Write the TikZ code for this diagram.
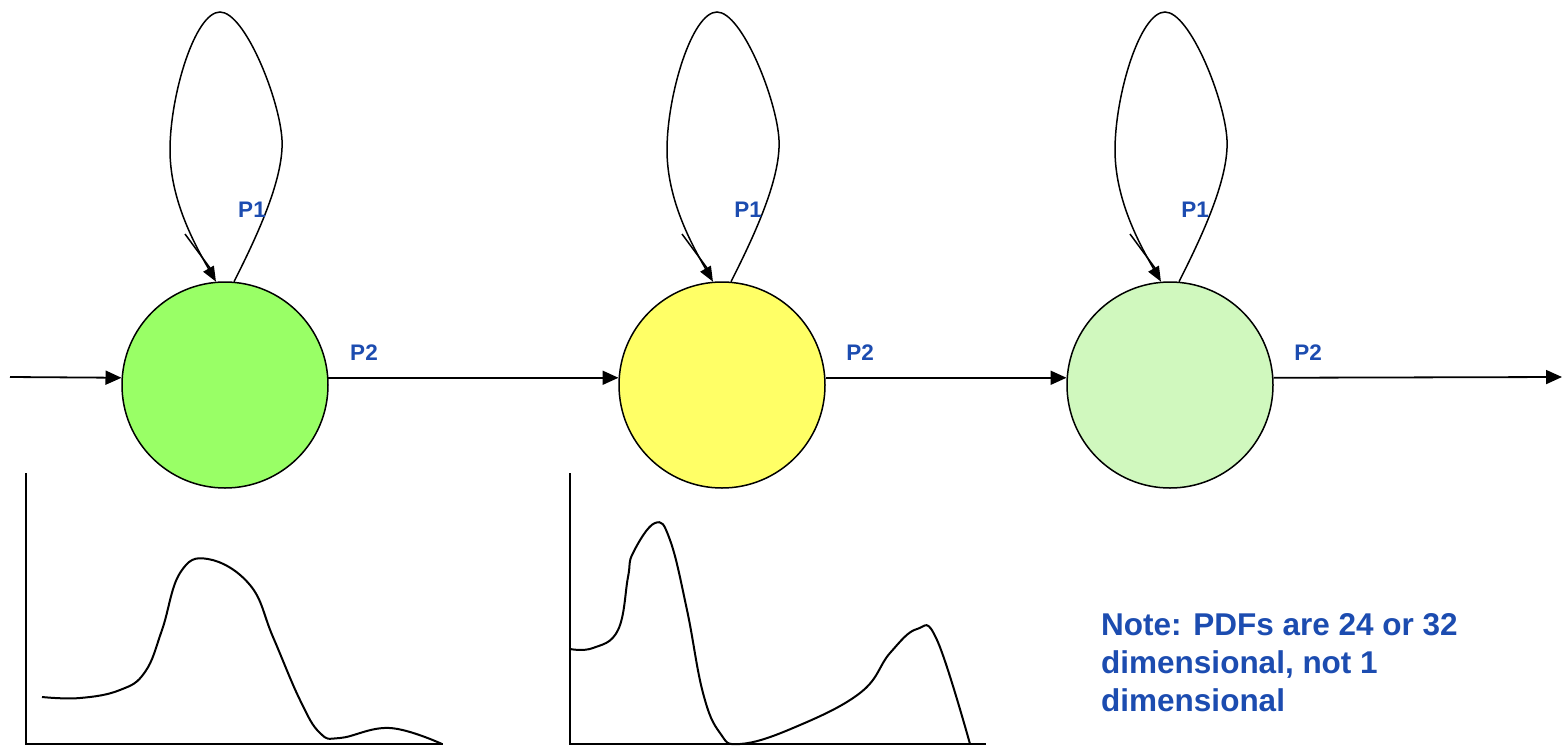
\documentclass[tikz,border=0pt]{standalone}
\usepackage{fontspec}
\setmainfont{Liberation Sans}
\usetikzlibrary{arrows.meta,calc}
\definecolor{lblue}{RGB}{28,76,176}
\definecolor{sgreen}{RGB}{153,255,102}
\definecolor{syellow}{RGB}{255,255,102}
\definecolor{slight}{RGB}{208,248,190}
\begin{document}
\begin{tikzpicture}[x=1pt,y=-1pt,
  state/.style={circle, draw, line width=1.5pt, minimum size=206pt, inner sep=0pt},
  link/.style={line width=1.8pt, -{Triangle[length=16pt,width=14pt]}},
  loopln/.style={line width=1.5pt, -{Triangle[length=15pt,width=12pt]}},
  thin/.style={line width=1.5pt},
  axis/.style={line width=2pt},
  curve/.style={line width=2pt, line join=round},
  lbl/.style={text=lblue, font=\fontsize{22.5}{26}\selectfont\bfseries, inner sep=0pt},
  note/.style={text=lblue, font=\fontsize{31.5}{38}\selectfont\bfseries, inner sep=0pt, align=left}]
\useasboundingbox (0,0) rectangle (1568,745);

\node[state, fill=sgreen]  (c1) at (225,385) {};
\node[state, fill=syellow] (c2) at (722,385) {};
\node[state, fill=slight]  (c3) at (1170,385) {};

\coordinate (in0) at (10,377);
\coordinate (out0) at (1562,377);

\draw[link] (in0) -- (c1.176);
\draw[link] (c1.4) -- (c2.176);
\draw[link] (c2.4) -- (c3.176);
\draw[link] (c3.4) -- (out0);

\foreach \i in {1,2,3} {
  \draw[loopln] (c\i.85)
    .. controls ($(c\i)+(30,-145)$) and ($(c\i)+(59,-205)$) .. ($(c\i)+(57,-245)$)
    .. controls ($(c\i)+(55,-285)$) and ($(c\i)+(20,-373)$) .. ($(c\i)+(-5,-373)$)
    .. controls ($(c\i)+(-30,-373)$) and ($(c\i)+(-55,-290)$) .. ($(c\i)+(-55,-235)$)
    .. controls ($(c\i)+(-55,-185)$) and ($(c\i)+(-30,-140)$) .. (c\i.95);
  \draw[thin] ($(c\i)+(-40,-151)$) -- ($(c\i)+(-15,-117)$);
}

\node[lbl] (p11) at (252,210) {P1};
\node[lbl] (p12) at (748,210) {P1};
\node[lbl] (p13) at (1195,210) {P1};
\node[lbl] (p21) at (364,353) {P2};
\node[lbl] (p22) at (860,353) {P2};
\node[lbl] (p23) at (1308,353) {P2};

% PDF plot 1
\draw[axis] (26,473) -- (26,744) -- (443,744);
\draw[curve] plot[smooth, tension=0.7] coordinates {(42,697) (80,698) (120,690) (145,672) (162,630) (180,573) (208,559) (250,585) (273,637) (300,700) (320,733) (340,738) (390,728) (442,744)};

% PDF plot 2
\draw[axis] (570,473) -- (570,744) -- (986,744);
\draw[curve] plot[smooth, tension=0.7] coordinates {(570,649) (593,648) (618,630) (628,577) (633,553) (655,523) (670,540) (687,610) (703,693) (720,733) (740,744) (793,728) (860,693) (890,653) (917,629) (937,640) (970,744)};

\node[note, anchor=north west] (nt) at (1101,613) {Note: PDFs are 24 or 32\\dimensional, not 1\\dimensional};
\end{tikzpicture}
\end{document}
